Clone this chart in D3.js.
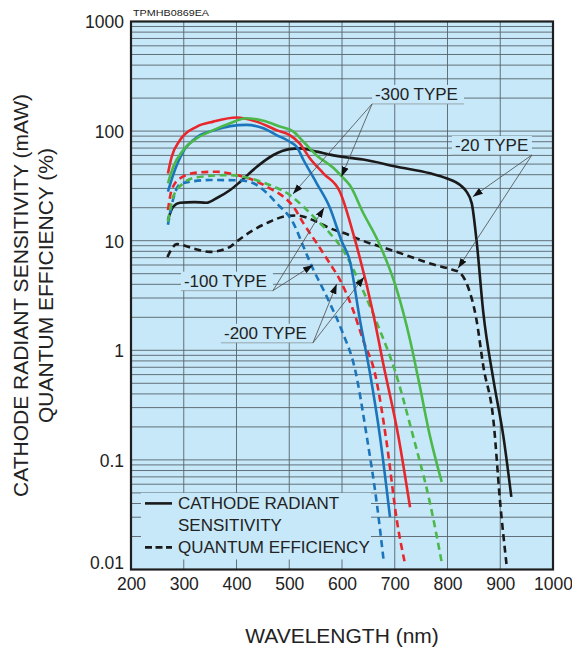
<!DOCTYPE html>
<html><head><meta charset="utf-8">
<script src="https://cdn.jsdelivr.net/npm/d3@7"></script>
<style>
body{margin:0;background:#fff}
svg{display:block}
text{font-family:"Liberation Sans",Arial,Helvetica,sans-serif;fill:#222}
</style>
</head><body>
<svg id="chart" width="572" height="654"></svg>
<script>
// Axis ticks
const wavelengthTicks = [200, 300, 400, 500, 600, 700, 800, 900, 1000];
const valueTicks = [0.01, 0.1, 1, 10, 100, 1000];

// -20 type (multialkali)
const sens20 = [[270,15.5],[280,20.4],[293,22.2],[320,22.5],[343,22.2],[362,24.4],[388,29],[407,34.5],[438,47],[470,60.5],[500,68.5],[520,69.5],[552,65],[577,61],[615,57],[640,55],[704,47.3],[767,41.2],[798,37.1],[824,32.2],[836,28],[846,21.9],[855,10.1],[868,2.18],[887,0.54],[906,0.163],[921,0.046]];
const qe20 = [[269,7.1],[287,9.3],[318,8.5],[350,7.9],[388,8.8],[400,9.8],[432,12.5],[463,14.9],[495,16.8],[514,17],[552,14.9],[577,13],[609,11.5],[628,10.5],[704,7.9],[767,6.2],[811,5.4],[821,5.2],[836,4.1],[855,1.89],[868,0.71],[887,0.231],[900,0.04],[912,0.011]];

// -100 type
const sens100 = [[270,28],[280,40],[299,65],[325,88],[356,101],[388,111],[419,114],[451,106],[476,92],[501,80],[514,72],[527,54.5],[552,33.4],[577,20],[599,10],[615,6.5],[634,1.89],[653,0.62],[672,0.163],[691,0.03]];
const qe100 = [[270,14],[280,24],[293,33],[312,34.5],[350,35.8],[407,35.5],[431,33.6],[451,29],[476,22],[508,14.4],[527,8.8],[546,5.4],[565,3.55],[577,2.68],[600,1.5],[625,0.66],[647,0.163],[666,0.04],[679,0.012]];

// -200 type
const sens200 = [[270,41],[277,58],[293,83],[325,110],[356,122],[400,133],[438,122],[476,102],[501,92],[520,77],[539,56.5],[565,41],[596,28],[625,10],[659,2.18],[678,0.76],[707,0.163],[729,0.037]];
const qe200 = [[270,19],[277,29],[293,37],[325,41.8],[362,42.6],[400,39.7],[432,35.8],[463,30],[489,25.2],[508,20.4],[527,14.4],[552,9.5],[577,6.2],[596,4.4],[621,2.33],[640,1.24],[663,0.6],[685,0.14],[704,0.028],[720,0.011]];

// -300 type
const sens300 = [[270,33.4],[280,47],[299,67],[325,86],[356,102],[388,118],[419,131],[451,124],[482,110],[508,99],[527,80],[552,60],[584,46],[600,38.4],[615,32],[640,18],[668,10],[704,3.55],[729,1.24],[745,0.54],[767,0.163],[789,0.063]];
const qe300 = [[270,14.9],[280,25.2],[299,33.4],[325,37.9],[388,39.7],[426,37],[463,32.2],[501,26.1],[527,20.4],[552,15.5],[577,11.7],[602,8.2],[640,3.5],[670,1.6],[700,0.66],[735,0.163],[767,0.04],[790,0.011]];

// Type callouts: label text, anchor point of the underline, and arrow targets (wavelength, value)
const callouts = [
  {text: "-300 TYPE", anchor: [657, 177], side: "left", width: 92, targets: [[507, 26.7], [599, 38.4]]},
  {text: "-20 TYPE", anchor: [960, 60.5], side: "right", width: 80, targets: [[848, 25.2], [820, 5.6]]},
  {text: "-100 TYPE", anchor: [469, 3.5], side: "right", width: 92, targets: [[566, 20], [545, 6.0]]},
  {text: "-200 TYPE", anchor: [545, 1.17], side: "right", width: 92, targets: [[590, 4.03], [642, 4.67]]}
];

const series = [
  {data: qe20, color: "#1a1a1a", dash: true},
  {data: sens20, color: "#1a1a1a", dash: false},
  {data: qe100, color: "#1b75bc", dash: true},
  {data: qe200, color: "#e8262b", dash: true},
  {data: qe300, color: "#4cb84a", dash: true},
  {data: sens100, color: "#1b75bc", dash: false},
  {data: sens200, color: "#e8262b", dash: false},
  {data: sens300, color: "#4cb84a", dash: false}
];

const svg = d3.select("#chart");
const plotLeft = 131, plotRight = 553, plotTop = 21.5, plotBottom = 569.5;
const x = d3.scaleLinear().domain([200, 1000]).range([plotLeft, plotRight]);
const y = d3.scaleLog().domain([0.01, 1000]).range([plotBottom, plotTop]);

const bg = "#c7e8f8";
const gridColor = "#56626b";

// plot background
svg.append("rect").attr("x", plotLeft).attr("y", plotTop).attr("width", plotRight - plotLeft).attr("height", plotBottom - plotTop).attr("fill", bg);

// grid
const minorValues = [];
for (let e = -2; e < 3; e++) for (let m = 1; m < 10; m++) minorValues.push(m * Math.pow(10, e));
const grid = svg.append("g");
grid.selectAll("line.h").data(minorValues.filter(v => v > 0.01)).join("line")
  .attr("x1", plotLeft).attr("x2", plotRight).attr("y1", d => y(d)).attr("y2", d => y(d))
  .attr("stroke", gridColor).attr("stroke-width", 0.9);
grid.selectAll("line.v").data(wavelengthTicks.slice(1, -1)).join("line")
  .attr("x1", d => x(d)).attr("x2", d => x(d)).attr("y1", plotTop).attr("y2", plotBottom)
  .attr("stroke", gridColor).attr("stroke-width", 0.9);

// legend panel masks the grid, leaving short tick stubs along the axes
const legendTop = y(0.05), legendRight = x(655);
svg.append("rect").attr("x", plotLeft + 10).attr("y", legendTop).attr("width", legendRight - plotLeft - 10)
  .attr("height", plotBottom - 10 - legendTop).attr("fill", bg);

// curves
const line = d3.line().x(d => x(d[0])).y(d => y(d[1])).curve(d3.curveMonotoneX);
const curves = svg.append("g").attr("fill", "none").attr("stroke-width", 2.6);
series.forEach(s => {
  curves.append("path").attr("d", line(s.data)).attr("stroke", s.color)
    .attr("stroke-dasharray", s.dash ? "7,4.5" : null);
});

// callouts
const defs = svg.append("defs");
defs.append("marker").attr("id", "arrow").attr("viewBox", "0 0 10 10").attr("refX", 10).attr("refY", 5)
  .attr("markerWidth", 10).attr("markerHeight", 10).attr("markerUnits", "userSpaceOnUse").attr("orient", "auto")
  .append("path").attr("d", "M0,1.5 L10,5 L0,8.5 Z").attr("fill", "#111");
const notes = svg.append("g");
callouts.forEach(c => {
  const ax = x(c.anchor[0]), ay = y(c.anchor[1]);
  const bx = c.side === "left" ? ax : ax - c.width;
  notes.append("rect").attr("x", bx).attr("y", ay - 19).attr("width", c.width).attr("height", 19).attr("fill", bg);
  notes.append("line").attr("x1", bx).attr("x2", bx + c.width).attr("y1", ay).attr("y2", ay)
    .attr("stroke", "#8a949a").attr("stroke-width", 0.8);
  notes.append("text").attr("x", bx + 3).attr("y", ay - 4).attr("font-size", 17).text(c.text);
  c.targets.forEach(t => {
    notes.append("line").attr("x1", ax).attr("y1", ay).attr("x2", x(t[0])).attr("y2", y(t[1]))
      .attr("stroke", "#4a4a4a").attr("stroke-width", 0.8).attr("marker-end", "url(#arrow)");
  });
});

// frame
svg.append("rect").attr("x", plotLeft).attr("y", plotTop).attr("width", plotRight - plotLeft).attr("height", plotBottom - plotTop)
  .attr("fill", "none").attr("stroke", "#1e1e1e").attr("stroke-width", 2.2);

// axes
const xAxis = svg.append("g").attr("transform", `translate(0,${plotBottom})`)
  .call(d3.axisBottom(x).tickValues(wavelengthTicks).tickSize(0).tickPadding(8).tickFormat(d3.format("d")));
xAxis.select(".domain").remove();
xAxis.selectAll("text").attr("font-size", 17.5).attr("fill", "#222").attr("font-family", null);

const yAxis = svg.append("g").attr("transform", `translate(${plotLeft - 7},0)`)
  .call(d3.axisLeft(y).tickValues(valueTicks).tickSize(0).tickPadding(0).tickFormat(d => d < 1 ? String(d) : d3.format("d")(d)));
yAxis.select(".domain").remove();
yAxis.selectAll("text").attr("font-size", 17.5).attr("fill", "#222").attr("font-family", null)
  .attr("dy", (d) => d === 0.01 ? "-0.05em" : "0.36em");

// legend entries
const legend = svg.append("g");
const legendItems = [
  {lines: ["CATHODE RADIANT", "SENSITIVITY"], dash: false},
  {lines: ["QUANTUM EFFICIENCY"], dash: true}
];
let ly = legendTop + 10.5;
legendItems.forEach(item => {
  legend.append("line").attr("x1", plotLeft + 14).attr("x2", plotLeft + 41).attr("y1", ly).attr("y2", ly)
    .attr("stroke", "#1a1a1a").attr("stroke-width", 2.6).attr("stroke-dasharray", item.dash ? "7,3.5" : null);
  item.lines.forEach((t, i) => {
    legend.append("text").attr("x", plotLeft + 47).attr("y", ly + 6 + i * 22).attr("font-size", 17).text(t);
  });
  ly += item.lines.length * 22;
});

// drawing code
svg.append("text").attr("x", plotLeft + 2).attr("y", 16).attr("font-size", 9.5).attr("textLength", 76)
  .attr("lengthAdjust", "spacingAndGlyphs").attr("fill", "#2a2a2a").text("TPMHB0869EA");

// axis titles
svg.append("text").attr("x", (plotLeft + plotRight) / 2).attr("y", 643).attr("text-anchor", "middle")
  .attr("font-size", 21).text("WAVELENGTH (nm)");
const yTitle = svg.append("g").attr("transform", `translate(0,${(plotTop + plotBottom) / 2}) rotate(-90)`);
yTitle.append("text").attr("x", 0).attr("y", 28).attr("text-anchor", "middle").attr("font-size", 21)
  .text("CATHODE RADIANT SENSITIVITY (mAW)");
yTitle.append("text").attr("x", 10).attr("y", 53).attr("text-anchor", "middle").attr("font-size", 21)
  .text("QUANTUM EFFICIENCY (%)");
</script>
</body></html>
